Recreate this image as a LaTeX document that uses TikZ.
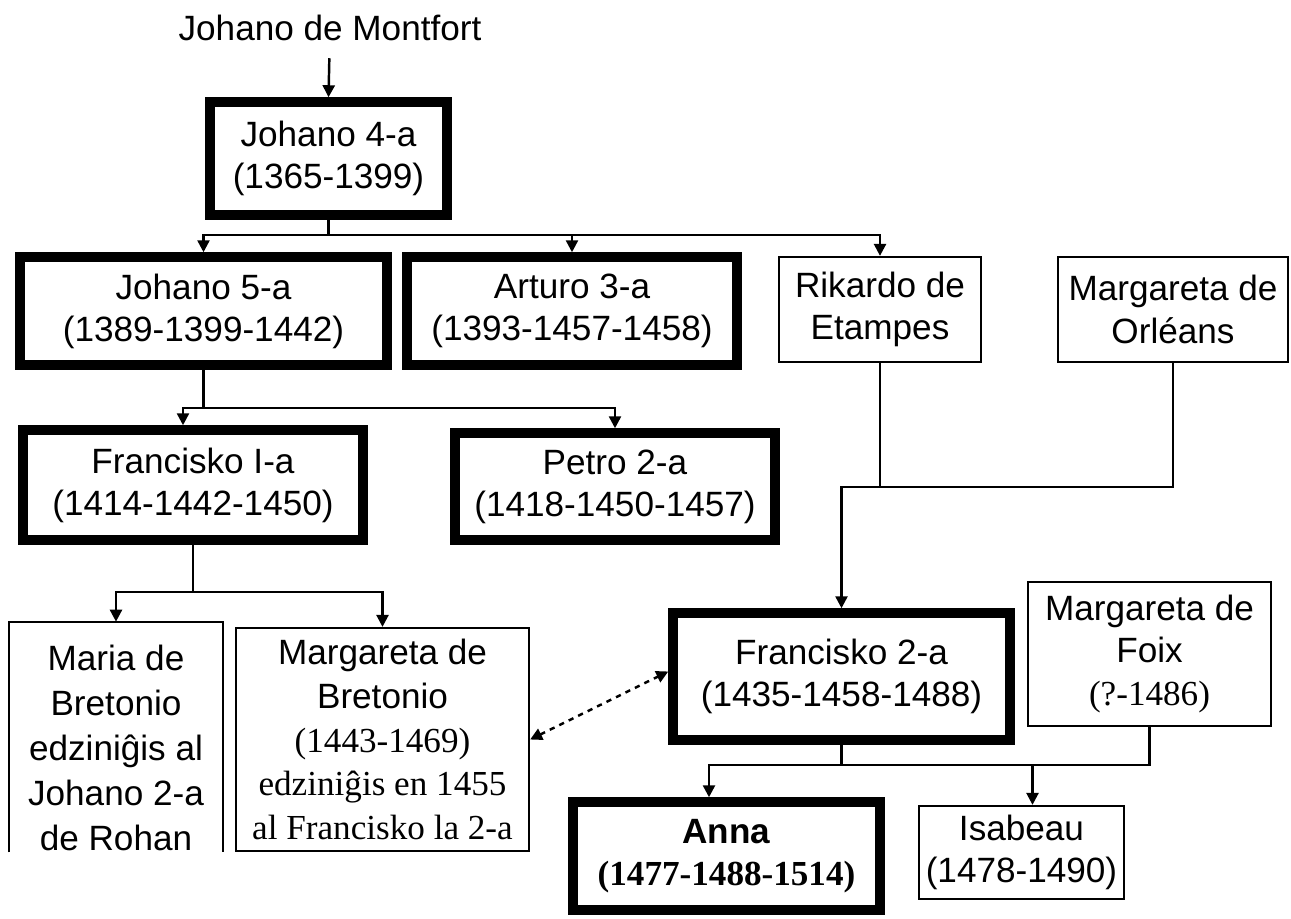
\documentclass[tikz,border=0pt]{standalone}
\usepackage{fontspec}
\setmainfont{Liberation Sans}
\newfontfamily\serif{Liberation Serif}
\usetikzlibrary{arrows.meta}
\begin{document}
\begin{tikzpicture}[x=0.02cm,y=-0.02cm,
  every node/.style={align=center,inner sep=0pt,font=\fontsize{20}{24}\selectfont},
  heavy/.style={draw,line width=0.19cm},
  light/.style={draw,line width=1.3pt},
  conn/.style={line width=1.4pt},
  arr/.style={conn,-{Triangle[width=0.24cm,length=0.24cm]}},
  marr/.style={conn,dash pattern=on 3pt off 3pt,{Triangle[width=0.24cm,length=0.24cm]}-{Triangle[width=0.24cm,length=0.24cm]}}
  ]
    \useasboundingbox (0,0) rectangle (1291,919);

    % generations
    \node (top) at (330,28) {Johano de Montfort};
    \node[heavy,minimum width=4.74cm,minimum height=2.26cm] (j4) at (328.5,158.5) {Johano 4-a\\(1365-1399)};
    \node[heavy,minimum width=7.34cm,minimum height=2.16cm] (j5) at (203.5,311) {Johano 5-a\\(1389-1399-1442)};
    \node[heavy,minimum width=6.6cm,minimum height=2.16cm] (art) at (572,311) {Arturo 3-a\\(1393-1457-1458)};
    \node[light,minimum width=4.04cm,minimum height=2.1cm] (rik) at (880,309.5) {Rikardo de\\Etampes};
    \node[light,minimum width=4.6cm,minimum height=2.1cm] (morl) at (1173,309.5) {Margareta de\\Orléans};
    \node[heavy,minimum width=6.8cm,minimum height=2.2cm] (f1) at (193,485) {Francisko I-a\\(1414-1442-1450)};
    \node[heavy,minimum width=6.4cm,minimum height=2.14cm] (petro) at (615,486.5) {Petro 2-a\\(1418-1450-1457)};
    \node[minimum width=4.28cm,minimum height=5.04cm,font=\fontsize{20}{25.5}\selectfont] (maria) at (116,748) {Maria de\\Bretonio\\edziniĝis al\\Johano 2-a\\de Rohan};
    \node[light,minimum width=5.86cm,minimum height=4.46cm,font=\fontsize{20}{25}\selectfont] (mb) at (382.5,739.5) {Margareta de\\Bretonio\\{\serif(1443-1469)}\\{\serif edziniĝis en 1455}\\{\serif al Francisko la 2-a}};
    \node[heavy,minimum width=6.74cm,minimum height=2.54cm] (f2) at (841.5,676.5) {Francisko 2-a\\(1435-1458-1488)};
    \node[light,minimum width=4.86cm,minimum height=2.88cm] (foix) at (1149.5,654) {Margareta de\\Foix\\{\serif(?-1486)}};
    \node[heavy,minimum width=6.14cm,minimum height=2.16cm] (anna) at (726.5,856) {\bfseries Anna\\{\serif\bfseries(1477-1488-1514)}};
    \node[light,minimum width=4.1cm,minimum height=1.86cm] (isa) at (1021.5,852.5) {Isabeau\\(1478-1490)};

    % open box
    \draw[light] ([yshift=0.44cm]maria.south west) -- (maria.north west) -- (maria.north east) -- ([yshift=0.44cm]maria.south east);

    % links
    \draw[arr,shorten <=0.34cm] (top) -- (j4.north);
    \draw[conn] (j4.south) -- ++(0,15) coordinate (b1);
    \draw[arr] (b1) -| (j5.north);
    \draw[arr] (b1) -| (art.north);
    \draw[arr] (b1) -| (rik.north);

    \draw[conn] (j5.south) -- ++(0,38) coordinate (b2);
    \draw[arr] (b2) -| ([xshift=-0.2cm]f1.north);
    \draw[arr] (b2) -| (petro.north);

    \draw[conn] (rik.south) -- ++(0,124) coordinate (b3);
    \draw[conn] (morl.south) |- (b3);
    \draw[arr] (b3) -| (f2.north);

    \draw[conn] (f1.south) -- ++(0,47) coordinate (b4);
    \draw[arr] (b4) -| (maria.north);
    \draw[arr] (b4) -| (mb.north);

    \draw[conn] (f2.south) -- ++(0,20) coordinate (b5);
    \draw[conn] (foix.south) |- (b5);
    \draw[arr] (b5) -| ([xshift=-0.35cm]anna.north);
    \draw[arr] (b5) -| ([xshift=0.22cm]isa.north);

    \draw[marr] (mb.east) -- ([yshift=0.1cm]f2.west);
\end{tikzpicture}
\end{document}
